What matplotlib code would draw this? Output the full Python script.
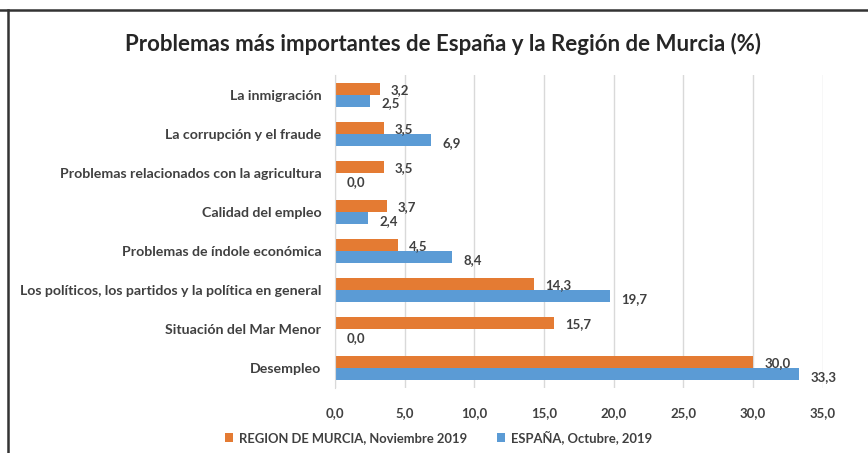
import matplotlib
matplotlib.use("Agg")
import matplotlib.pyplot as plt
import numpy as np
from matplotlib.lines import Line2D

# datos (de abajo hacia arriba)
categorias = ["Desempleo", "Situación del Mar Menor",
              "Los políticos, los partidos y la política en general",
              "Problemas de índole económica", "Calidad del empleo",
              "Problemas relacionados con la agricultura",
              "La corrupción y el fraude", "La inmigración"]
murcia = [30.0, 15.7, 14.3, 4.5, 3.7, 3.5, 3.5, 3.2]
espana = [33.3, 0.0, 19.7, 8.4, 2.4, 0.0, 6.9, 2.5]
ticks_x = [0, 5, 10, 15, 20, 25, 30, 35]

naranja = "#E47B33"
azul = "#5B9BD5"
gris = "#404040"

plt.rcParams["font.family"] = ["Lato", "DejaVu Sans"]

fig = plt.figure(figsize=(8.68, 4.53), dpi=100)
ax = fig.add_axes([0.386, 0.144, 0.562, 0.690])

y = np.arange(len(categorias))
h = 0.31
ax.barh(y + h / 2, murcia, height=h, color=naranja, label="REGION DE MURCIA, Noviembre 2019")
ax.barh(y - h / 2, espana, height=h, color=azul, label="ESPAÑA, Octubre, 2019")

# etiquetas de datos
for i in range(len(categorias)):
    ax.annotate(f"{murcia[i]:.1f}".replace(".", ","), (murcia[i], y[i] + h / 2),
                xytext=(8, -1), textcoords="offset points", va="center", ha="left",
                fontsize=9.5, fontweight="bold", color=gris)
    ax.annotate(f"{espana[i]:.1f}".replace(".", ","), (espana[i], y[i] - h / 2),
                xytext=(8, -2), textcoords="offset points", va="center", ha="left",
                fontsize=9.5, fontweight="bold", color=gris)

ax.set_xlim(0, 35)
ax.set_ylim(-0.5, len(categorias) - 0.5)
ax.set_xticks(ticks_x)
ax.set_xticklabels([f"{t:.1f}".replace(".", ",") for t in ticks_x],
                   fontsize=9.5, fontweight="bold", color=gris)
ax.set_yticks(y)
ax.set_yticklabels(categorias, fontsize=10.2, fontweight="bold", color=gris)
ax.tick_params(length=0, pad=10)
ax.tick_params(axis="x", pad=14)
ax.grid(axis="x", color="#d9d9d9", linewidth=1)
ax.set_axisbelow(True)
for s in ["top", "right", "bottom"]:
    ax.spines[s].set_visible(False)
ax.spines["left"].set_color("#d9d9d9")

fig.text(0.510, 0.902, "Problemas más importantes de España y la Región de Murcia (%)",
         ha="center", va="center", fontsize=16, fontweight="bold", color="#262626")

leg = fig.legend(loc="center", bbox_to_anchor=(0.505, 0.035), ncol=2, frameon=False,
                 fontsize=9.4, handlelength=0.6, handleheight=0.6, columnspacing=2.3,
                 handletextpad=0.45)
for t in leg.get_texts():
    t.set_fontweight("bold")
    t.set_color(gris)

# marco del documento
fig.add_artist(Line2D([0, 1], [0.978, 0.978], color="#333333", linewidth=1.8))
fig.add_artist(Line2D([0.0095, 0.0095], [0, 0.978], color="#333333", linewidth=1.8))

fig.savefig("out.png", dpi=100)
